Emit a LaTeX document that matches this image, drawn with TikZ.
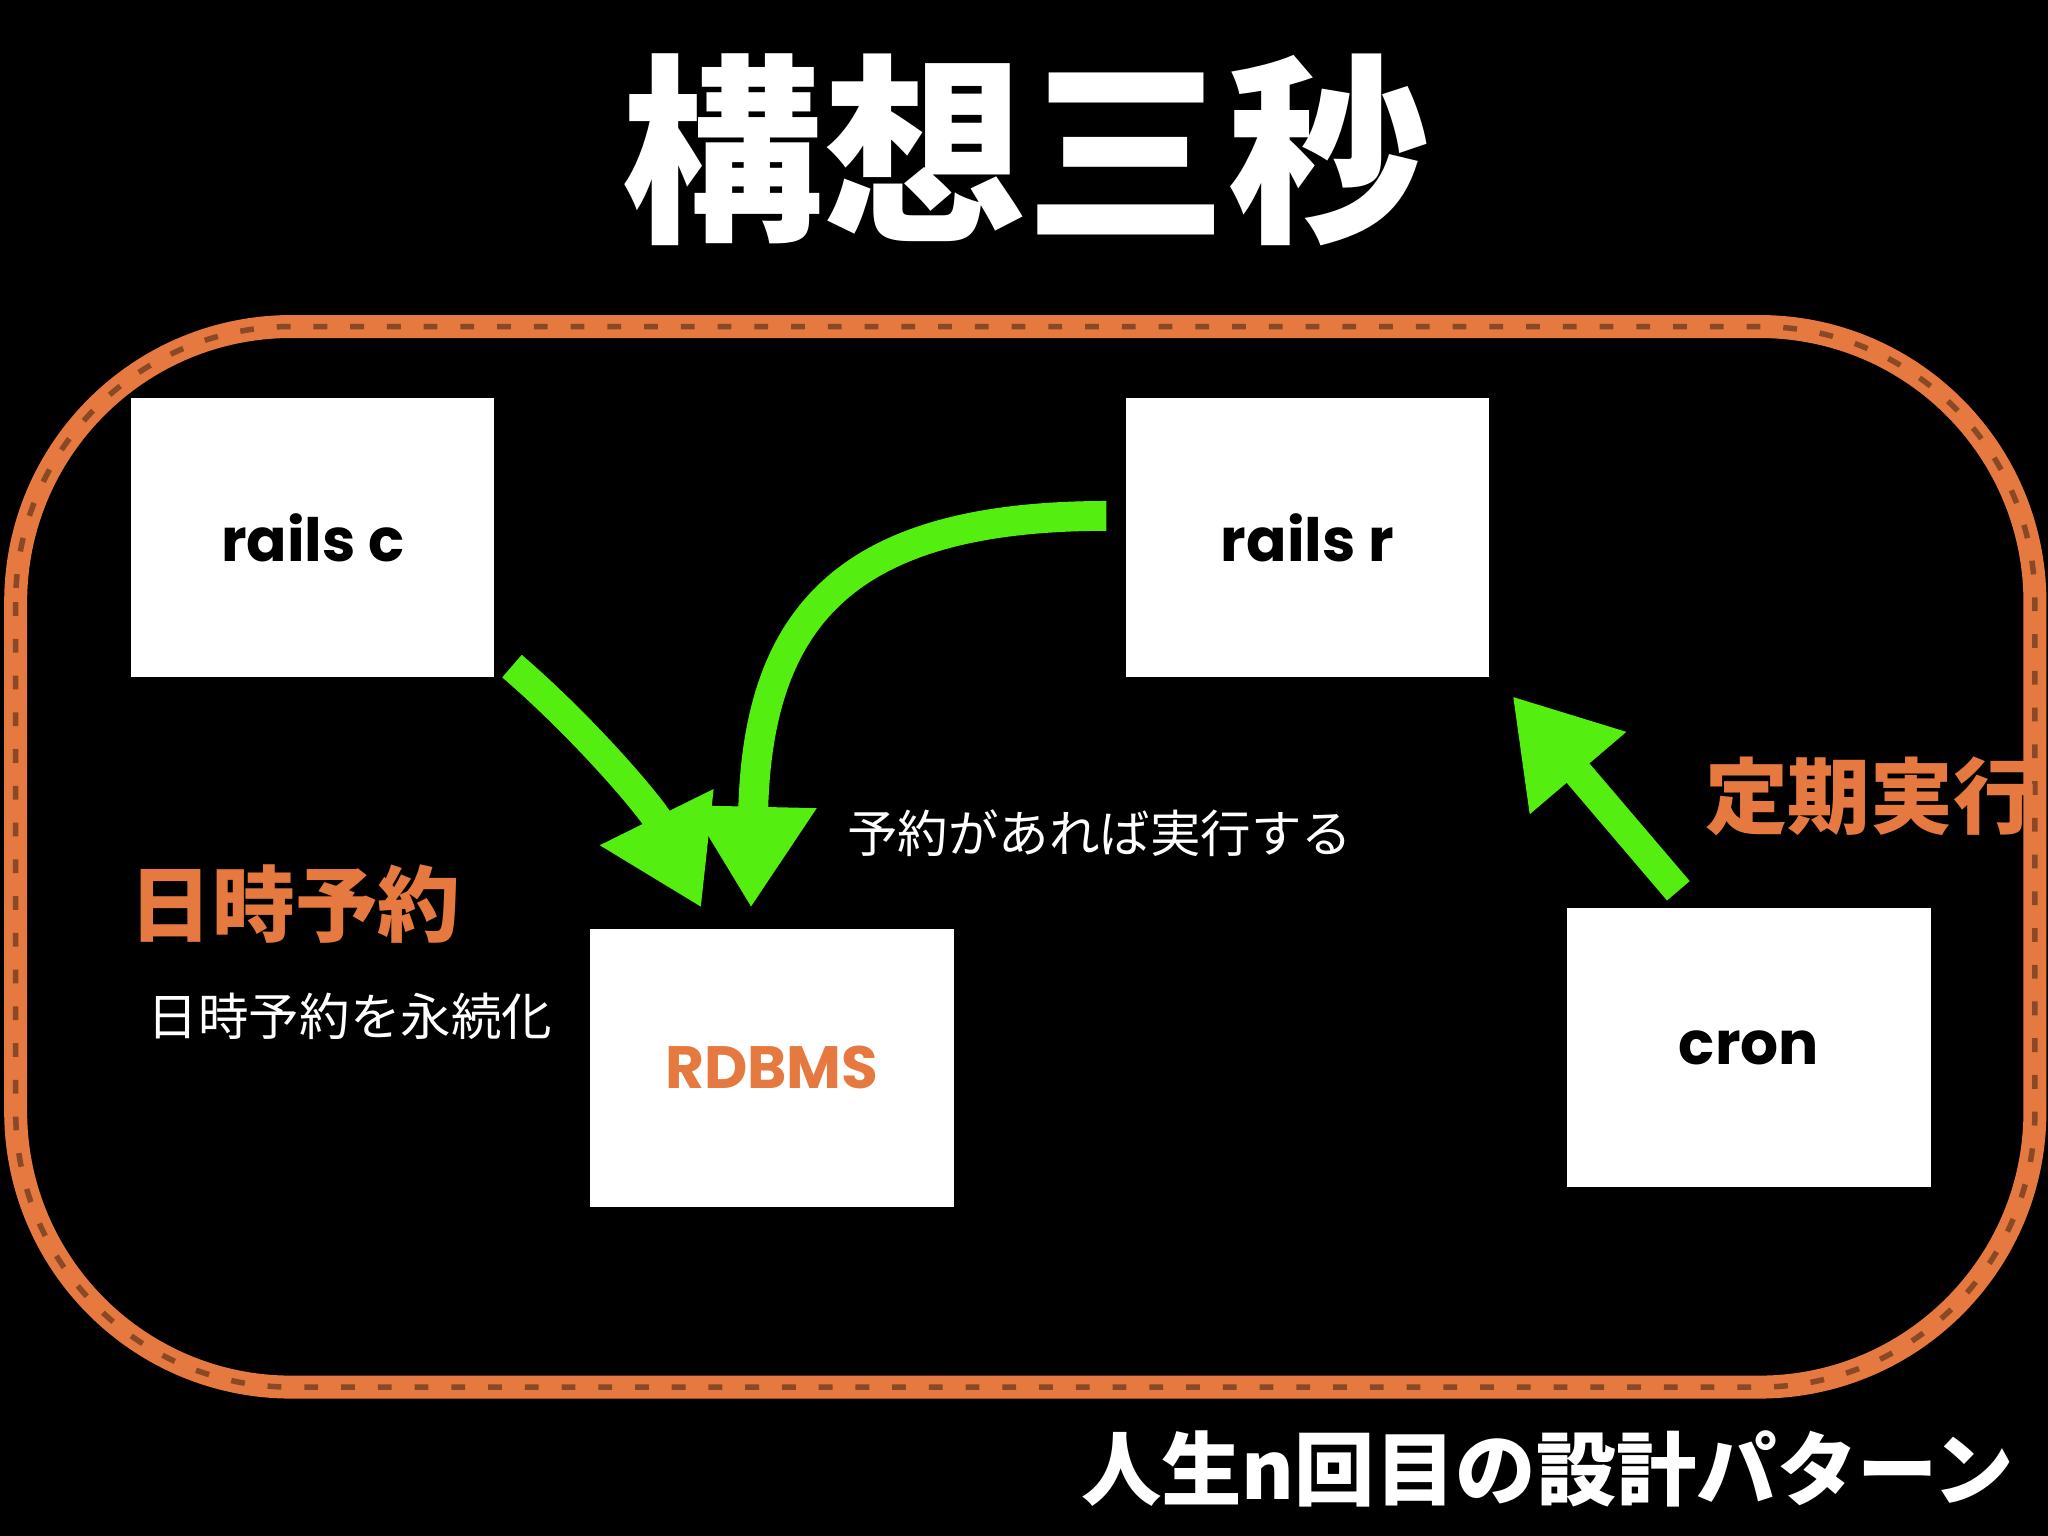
\documentclass[tikz,border=0pt]{standalone}
\usepackage{fontspec}
\setmainfont{Liberation Sans}
\newfontfamily\popp{Poppins}
\newfontfamily\cjk{Noto Sans CJK JP}
\usetikzlibrary{arrows.meta}
\definecolor{org}{HTML}{E5793F}
\definecolor{grn}{HTML}{55EE11}
\tikzset{
  wbox/.style={fill=white,draw=none,minimum width=2.78cm,minimum height=2.13cm,font=\popp\fontsize{13}{16}\selectfont\bfseries},
  garrow/.style={grn,line width=6.5pt,-{Triangle[width=26pt,length=22pt]}},
  olabel/.style={text=org,font=\cjk\bfseries\fontsize{18}{20}\selectfont},
  wlabel/.style={text=white,font=\cjk\fontsize{11}{13}\selectfont}
}
\begin{document}
\begin{tikzpicture}[x=0.01cm,y=-0.01cm]
\fill[black] (0,0) rectangle (1568,1176);
\useasboundingbox (0,0) rectangle (1568,1176);
\node[text=white,font=\cjk\bfseries\fontsize{44}{48}\selectfont] (title) at (785,115) {構想三秒};
\draw[org,line width=5pt,rounded corners=60] (12,250) rectangle (1558,1062);
\draw[org!60!black,line width=1.2pt,dash pattern=on 3pt off 5pt,rounded corners=60] (12,250) rectangle (1558,1062);
\node[wbox] (rc) at (239.5,411.5) {rails c};
\node[wbox] (rr) at (1001,411.5) {rails r};
\node[wbox,text=org] (db) at (591,817.5) {RDBMS};
\node[wbox] (cr) at (1339,802) {cron};
\coordinate (a1s) at (392,510);
\coordinate (a1e) at (537,695);
\draw[garrow] (a1s) .. controls (450,560) and (500,620) .. (a1e);
\coordinate (a2s) at (847,395);
\coordinate (a2e) at (575,695);
\draw[garrow] (a2s) .. controls (650,395) and (580,470) .. (a2e);
\coordinate (a3s) at (1285,682);
\coordinate (a3e) at (1158,533);
\draw[garrow] (a3s) -- (a3e);
\node[olabel] (l1) at (226,692) {日時予約};
\node[wlabel] (l2) at (268,778) {日時予約を永続化};
\node[wlabel] (l3) at (842,638) {予約があれば実行する};
\node[olabel] (l4) at (1432,610) {定期実行};
\node[text=white,font=\cjk\bfseries\fontsize{17.5}{20}\selectfont] (foot) at (1185,1125) {人生n回目の設計パターン};
\end{tikzpicture}
\end{document}
